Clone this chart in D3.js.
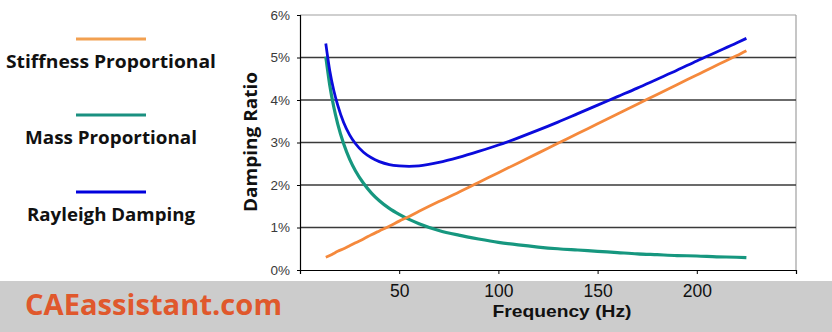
<!DOCTYPE html>
<html><head><meta charset="utf-8">
<script src="https://cdn.jsdelivr.net/npm/d3@7"></script>
<style>html,body{margin:0;padding:0;background:#fff;}svg{display:block;}</style>
</head><body>
<svg id="c" width="832" height="332"></svg>
<script>
// Data
const frequency = [13,15,17,19,22,25,28,32,36,40,45,50,55,60,70,80,90,100,110,120,130,140,150,160,170,180,190,200,210,220,225];
const stiffnessProportional = [0.30,0.34,0.39,0.44,0.50,0.57,0.64,0.73,0.83,0.92,1.03,1.15,1.26,1.38,1.61,1.83,2.06,2.29,2.52,2.75,2.98,3.21,3.44,3.67,3.90,4.13,4.36,4.59,4.82,5.04,5.16];
const massProportional = [5.02,4.35,3.84,3.44,2.97,2.61,2.33,2.04,1.81,1.63,1.45,1.31,1.19,1.09,0.93,0.82,0.73,0.65,0.59,0.54,0.50,0.47,0.44,0.41,0.38,0.36,0.34,0.33,0.31,0.30,0.29];
const rayleighDamping = [5.33,4.69,4.23,3.88,3.47,3.18,2.97,2.77,2.64,2.55,2.48,2.45,2.44,2.45,2.53,2.65,2.79,2.94,3.11,3.29,3.48,3.68,3.88,4.08,4.28,4.49,4.70,4.92,5.13,5.34,5.45];
const seriesNames = ["Stiffness Proportional","Mass Proportional","Rayleigh Damping"];
const xTickValues = [0,50,100,150,200,250];
const xTickLabels = ["","50","100","150","200",""];
const yTickValues = [0,1,2,3,4,5,6];
const yTickLabels = ["0%","1%","2%","3%","4%","5%","6%"];

const svg = d3.select("#c");
const L = 300, R = 796, T = 15, B = 270;
const x = d3.scaleLinear().domain([0,250]).range([L,R]);
const y = d3.scaleLinear().domain([0,6]).range([B,T]);

// bottom banner
svg.append("rect").attr("x",0).attr("y",281).attr("width",832).attr("height",51).attr("fill","#cccccc");

// plot border (top/right)
svg.append("line").attr("x1",L).attr("x2",R).attr("y1",T).attr("y2",T).attr("stroke","#a0a0a0").attr("stroke-width",1.2);
svg.append("line").attr("x1",R).attr("x2",R).attr("y1",T).attr("y2",B).attr("stroke","#a0a0a0").attr("stroke-width",1.2);

// gridlines
svg.append("g").selectAll("line").data(yTickValues.filter(v=>v>0 && v<6)).join("line")
  .attr("x1",L).attr("x2",R).attr("y1",d=>y(d)).attr("y2",d=>y(d))
  .attr("stroke","#3a3a3a").attr("stroke-width",1.4);

// y axis
const yAxis = d3.axisLeft(y).tickValues(yTickValues).tickSize(3).tickPadding(7)
  .tickFormat((d,i)=>yTickLabels[i]);
const gy = svg.append("g").attr("transform",`translate(${L},0)`).call(yAxis);
gy.select(".domain").attr("stroke","#000").attr("stroke-width",1.2);
gy.selectAll(".tick line").attr("stroke","#000");
gy.selectAll("text").attr("font-family","Liberation Sans, Arial, sans-serif").attr("font-size",13.5).attr("fill","#3a3a3a");

// x axis
const xAxis = d3.axisBottom(x).tickValues(xTickValues).tickSize(4).tickPadding(10)
  .tickFormat((d,i)=>xTickLabels[i]);
const gx = svg.append("g").attr("transform",`translate(0,${B})`).call(xAxis);
gx.select(".domain").attr("stroke","#000").attr("stroke-width",1.2);
gx.selectAll(".tick line").attr("stroke","#000");
gx.selectAll(".tick text").attr("y",27).attr("dy",null)
  .attr("font-family","Liberation Sans, Arial, sans-serif").attr("font-size",17.5).attr("fill","#111");

// lines
const colors = ["#f5893c","#16977f","#0b0bdc"];
const seriesVals = [stiffnessProportional, massProportional, rayleighDamping];
const line = d3.line().x(d=>x(d[0])).y(d=>y(d[1])).curve(d3.curveMonotoneX);
[1,0,2].forEach(i=>{
  svg.append("path").datum(frequency.map((f,j)=>[f,seriesVals[i][j]]))
    .attr("d",line).attr("fill","none").attr("stroke",colors[i])
    .attr("stroke-width", i===1?3.2:2.8).attr("stroke-linecap","butt");
});

// axis titles
svg.append("text").attr("transform","translate(257,142) rotate(-90)").attr("text-anchor","middle")
  .attr("font-family","Open Sans, sans-serif").attr("font-weight",700).attr("font-size",18).attr("fill","#111")
  .attr("textLength",140).attr("lengthAdjust","spacingAndGlyphs")
  .text("Damping Ratio");
svg.append("text").attr("x",562).attr("y",317).attr("text-anchor","middle")
  .attr("font-family","Liberation Sans, Arial, sans-serif").attr("font-weight",700).attr("font-size",17).attr("fill","#111")
  .attr("textLength",139).attr("lengthAdjust","spacingAndGlyphs")
  .text("Frequency (Hz)");

// legend
const legendColors = ["#f2a050","#1a9080","#0000dd"];
const legendLineY = [39,115,192];
const legendTextY = [68,144,221];
const legendTextW = [210,172,168];
seriesNames.forEach((n,i)=>{
  svg.append("line").attr("x1",76).attr("x2",146).attr("y1",legendLineY[i]).attr("y2",legendLineY[i])
    .attr("stroke",legendColors[i]).attr("stroke-width",3);
  svg.append("text").attr("x",111).attr("y",legendTextY[i]).attr("text-anchor","middle")
    .attr("font-family","Open Sans, sans-serif").attr("font-weight",700).attr("font-size",17.5).attr("fill","#111")
    .attr("textLength",legendTextW[i]).attr("lengthAdjust","spacingAndGlyphs")
    .text(n);
});

// brand
svg.append("text").attr("x",25).attr("y",315).attr("font-family","Open Sans, sans-serif").attr("font-weight",700)
  .attr("font-size",28).attr("fill","#e0582c")
  .attr("textLength",257).attr("lengthAdjust","spacingAndGlyphs").text("CAEassistant.com");
</script>
</body></html>
